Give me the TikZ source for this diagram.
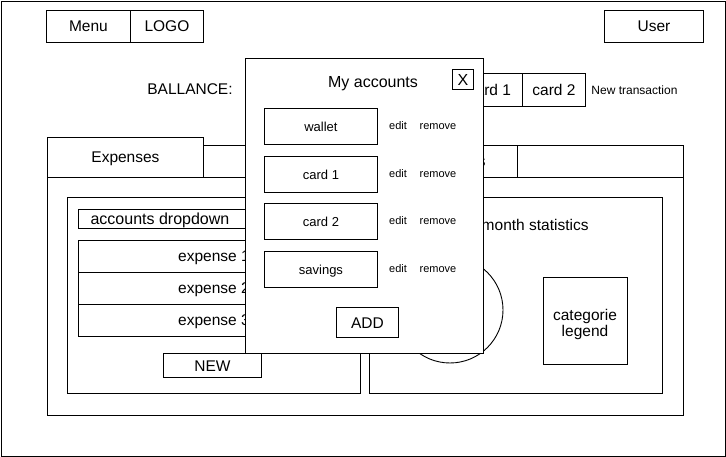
\documentclass[tikz,border=0pt]{standalone}
\usepackage{fontspec}
\setmainfont{Liberation Sans}
\begin{document}
\begin{tikzpicture}[x=1pt,y=-1pt,line width=0.9pt,
  box/.style={draw,inner sep=0pt,anchor=north west,font=\fontsize{15.5}{17}\selectfont,text height=11.1pt,text depth=0pt},
  big/.style={font=\fontsize{15.5}{17}\selectfont,inner sep=0pt,text height=11.1pt,text depth=0pt},
  mid/.style={font=\fontsize{13}{15}\selectfont,text height=9.3pt,text depth=0pt},
  small/.style={font=\fontsize{11}{13}\selectfont,inner sep=0pt,text height=7.9pt,text depth=0pt}]
\useasboundingbox (0,0) rectangle (726,457);
\draw (1,1) rectangle (725,456);
% header
\node[box,minimum width=84pt,minimum height=32pt] (menu) at (46,10) {Menu};
\node[box,minimum width=73pt,minimum height=32pt] (logo) at (130,10) {LOGO};
\node[box,minimum width=99pt,minimum height=32pt] (user) at (604,10) {User};
% balance row
\node[big] (bal) at (190,89) {BALLANCE:};
\node[box,minimum width=66pt,minimum height=33pt] (bcard1) at (456,73) {card 1};
\node[box,minimum width=63pt,minimum height=33pt] (bcard2) at (522,73) {card 2};
\node[font=\fontsize{12}{14}\selectfont,inner sep=0pt,anchor=west,text height=8.6pt,text depth=0pt] (newtr) at (591,90) {New transaction};
% panel
\node[draw,inner sep=0pt,anchor=north west,minimum width=636pt,minimum height=238pt] (panel) at (47,177) {};
\node[box,minimum width=156pt,minimum height=40pt] (tabexp) at (47,137) {Expenses};
\node[box,minimum width=157pt,minimum height=32pt] (tab2) at (203,145) {};
\node[box,minimum width=157pt,minimum height=32pt] (tab3) at (360,145) {};
\node[big,anchor=east] (tab3t) at (486,161) {Statistics};
\node[box,minimum width=166pt,minimum height=32pt] (tab4) at (517,145) {};
% left inner
\node[draw,inner sep=0pt,anchor=north west,minimum width=293pt,minimum height=196pt] (left) at (67,197) {};
\node[box,draw=none,minimum width=163pt,minimum height=19pt,font=\fontsize{16}{18}\selectfont] (dd) at (78,209) {accounts dropdown};
\draw (dd.north west) rectangle ++(172,19);
\node[box,minimum width=271pt,minimum height=32pt] (e1) at (78,240) {expense 1};
\node[box,minimum width=271pt,minimum height=32pt] (e2) at (78,272) {expense 2};
\node[box,minimum width=271pt,minimum height=32pt] (e3) at (78,304) {expense 3};
\node[box,minimum width=98pt,minimum height=24pt] (new) at (163,353) {NEW};
% right inner
\node[draw,inner sep=0pt,anchor=north west,minimum width=293pt,minimum height=196pt] (right) at (369,197) {};
\node[big,anchor=east] (stat) at (589,225) {month statistics};
\node[draw,circle,minimum size=106pt,inner sep=0pt] (pie) at (450,310) {};
\node[draw,inner sep=0pt,anchor=north west,minimum width=84pt,minimum height=87pt] (leg) at (543,277) {};
\node[align=center,font=\fontsize{15.5}{16}\selectfont,inner sep=0pt] (legt) at (585,324) {categorie\\legend};
% popup
\node[draw,fill=white,inner sep=0pt,anchor=north west,minimum width=238pt,minimum height=295pt] (popup) at (245,58) {};
\node[font=\fontsize{16}{18}\selectfont,inner sep=0pt,text height=11.5pt,text depth=0pt] (title) at (373,82) {My accounts};
\node[box,minimum width=21pt,minimum height=20pt,font=\fontsize{16}{18}\selectfont,text height=11.5pt] (close) at (452,69) {X};
\node[box,mid,minimum width=113pt,minimum height=36pt] (aw) at (264,108) {wallet};
\node[box,mid,minimum width=113pt,minimum height=36pt] (a1) at (264,156) {card 1};
\node[box,mid,minimum width=113pt,minimum height=36pt] (a2) at (264,203) {card 2};
\node[box,mid,minimum width=113pt,minimum height=36pt] (as) at (264,251) {savings};
\foreach \n/\y in {w/126,1/174,2/221,s/269}{
  \node[small] (ed\n) at (398,\y) {edit};
  \node[small] (rm\n) at (438,\y) {remove};
}
\node[box,minimum width=62pt,minimum height=30pt] (add) at (336,307) {ADD};
\end{tikzpicture}
\end{document}
